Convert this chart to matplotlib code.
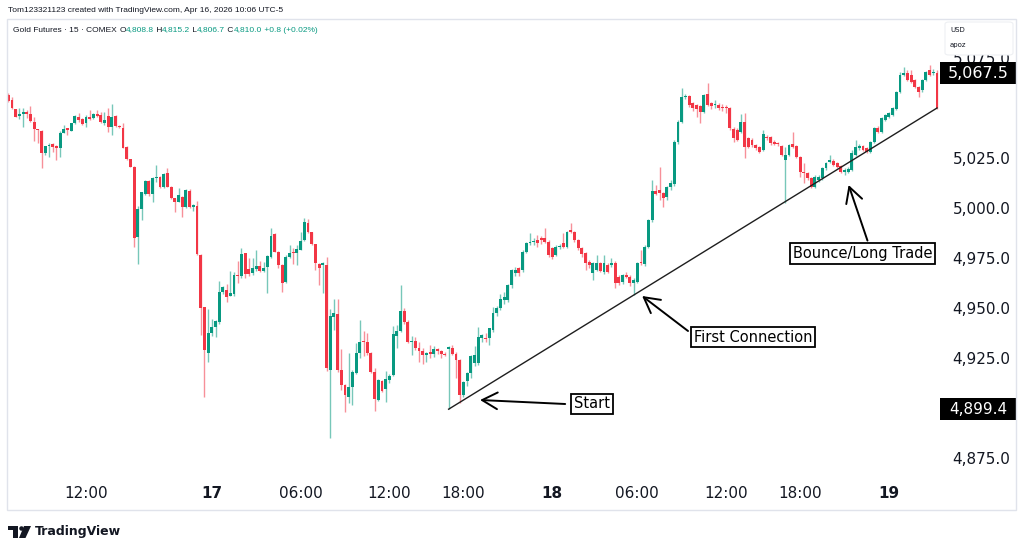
"""
Gold futures 15m chart with a hand drawn trendline and notes
"""
import numpy as np
import matplotlib.pyplot as plt
from matplotlib.patches import Rectangle, FancyBboxPatch, Polygon, Ellipse

W, H = 1024, 553
GREEN = "#089981"
RED = "#F23645"
INK = "#131722"
BORDER = "#E0E3EB"

opens = [
	5056.5, 5054.0, 5049.3, 5046.0, 5046.8, 5047.8, 5047.0, 5043.2, 5039.3, 5038.7,
	5027.3, 5031.0, 5031.8, 5030.8, 5029.8, 5037.7, 5039.8, 5038.7, 5042.3, 5045.3,
	5044.3, 5042.7, 5045.3, 5044.8, 5047.0, 5046.5, 5042.3, 5046.0, 5040.7, 5046.2,
	5041.2, 5040.2, 5030.7, 5024.3, 5020.7, 4985.3, 4999.3, 5006.8, 5013.5, 5006.8,
	5015.2, 5015.3, 5010.3, 5017.7, 5010.7, 5004.8, 5003.2, 5005.3, 5000.7, 5008.5,
	5000.7, 5001.2, 4976.5, 4950.3, 4927.7, 4937.3, 4940.7, 4943.2, 4957.8, 4959.0,
	4956.2, 4957.0, 4966.5, 4966.0, 4977.3, 4969.5, 4967.3, 4969.3, 4971.0, 4968.7,
	4970.7, 4975.3, 4986.8, 4978.2, 4971.5, 4963.2, 4975.7, 4978.2, 4977.7, 4979.0,
	4984.0, 4992.3, 4987.8, 4981.8, 4972.0, 4971.5, 4971.3, 4919.0, 4945.3, 4947.0,
	4919.0, 4911.5, 4905.7, 4910.7, 4917.3, 4927.3, 4933.7, 4932.8, 4927.3, 4918.2,
	4904.0, 4913.7, 4909.5, 4914.0, 4916.5, 4936.0, 4938.5, 4948.5, 4943.2, 4933.0,
	4933.5, 4929.8, 4928.5, 4926.5, 4928.0, 4927.0, 4929.5, 4928.5, 4927.0, 4929.5,
	4929.8, 4927.0, 4924.0, 4906.5, 4913.5, 4917.3, 4922.5, 4922.3, 4934.8, 4935.2,
	4934.8, 4939.0, 4947.3, 4949.8, 4954.0, 4954.0, 4961.5, 4967.3, 4969.8, 4969.0,
	4978.2, 4982.3, 4982.8, 4984.0, 4984.8, 4984.8, 4983.2, 4979.8, 4976.5, 4980.7,
	4982.7, 4980.7, 4989.0, 4987.8, 4984.0, 4979.8, 4977.3, 4973.2, 4967.7, 4969.0,
	4972.3, 4968.2, 4971.5, 4971.5, 4972.7, 4965.7, 4963.2, 4966.5, 4965.7, 4962.7,
	4963.2, 4973.2, 4972.0, 4980.7, 4994.0, 5008.7, 5009.0, 5007.7, 5005.3, 5010.3,
	5012.0, 5033.2, 5043.2, 5055.7, 5056.0, 5052.3, 5051.5, 5051.0, 5048.2, 5057.0,
	5052.3, 5051.5, 5051.5, 5050.7, 5050.7, 5049.8, 5039.3, 5039.0, 5038.2, 5043.2,
	5034.8, 5034.0, 5031.5, 5030.7, 5029.0, 5035.7, 5035.7, 5033.2, 5032.7, 5031.0,
	5024.0, 5026.5, 5032.0, 5031.0, 5025.7, 5018.2, 5017.3, 5014.8, 5010.7, 5014.0,
	5014.8, 5019.8, 5023.2, 5023.7, 5022.3, 5021.0, 5018.2, 5018.2, 5019.0, 5026.5,
	5029.8, 5031.0, 5029.8, 5028.2, 5033.2, 5039.8, 5038.2, 5044.0, 5045.7, 5046.5,
	5049.3, 5058.2, 5066.5, 5067.3, 5066.5, 5064.0, 5060.7, 5059.0, 5064.0, 5069.0,
	5067.3, 5067.7,
]
highs = [
	5057.5, 5055.3, 5049.5, 5049.8, 5049.8, 5049.0, 5051.2, 5045.3, 5039.5, 5039.0,
	5031.0, 5032.3, 5032.7, 5031.5, 5038.7, 5041.5, 5040.0, 5042.5, 5046.5, 5047.3,
	5044.8, 5046.5, 5049.0, 5047.3, 5049.0, 5048.2, 5047.8, 5050.2, 5052.0, 5046.5,
	5041.3, 5042.3, 5030.8, 5024.5, 5021.0, 5001.0, 5008.0, 5014.0, 5014.0, 5015.5,
	5021.7, 5016.0, 5017.5, 5019.8, 5011.0, 5005.0, 5009.8, 5006.0, 5009.5, 5009.5,
	5002.0, 5003.5, 4977.0, 4950.5, 4949.7, 4944.5, 4944.0, 4963.5, 4961.0, 4962.0,
	4968.3, 4968.0, 4973.5, 4980.0, 4977.5, 4975.0, 4975.0, 4979.0, 4973.5, 4973.0,
	4976.5, 4990.0, 4987.3, 4978.5, 4972.0, 4976.5, 4981.5, 4980.0, 4981.5, 4988.0,
	4995.0, 4994.5, 4988.0, 4982.0, 4972.5, 4973.0, 4975.3, 4949.3, 4954.3, 4954.5,
	4929.5, 4912.0, 4927.3, 4919.0, 4932.5, 4943.8, 4938.5, 4937.3, 4928.0, 4920.0,
	4914.5, 4914.0, 4918.5, 4917.0, 4941.2, 4941.5, 4961.5, 4950.0, 4944.0, 4936.0,
	4935.5, 4933.0, 4930.0, 4928.0, 4931.5, 4931.0, 4930.0, 4929.0, 4928.0, 4931.0,
	4931.5, 4928.0, 4924.5, 4913.5, 4918.0, 4926.5, 4931.0, 4940.7, 4937.0, 4937.3,
	4940.0, 4950.7, 4951.0, 4957.0, 4958.0, 4962.0, 4969.5, 4970.5, 4970.5, 4979.0,
	4983.0, 4987.3, 4985.0, 4986.7, 4986.0, 4989.8, 4984.0, 4980.5, 4981.5, 4982.0,
	4987.3, 4988.5, 4992.7, 4988.5, 4984.5, 4980.5, 4978.0, 4974.0, 4973.0, 4976.5,
	4973.0, 4976.5, 4972.5, 4975.0, 4973.5, 4966.5, 4967.0, 4968.0, 4966.5, 4965.0,
	4973.0, 4979.0, 4981.5, 4994.5, 5014.0, 5011.5, 5020.7, 5008.0, 5011.0, 5014.0,
	5034.0, 5044.0, 5059.8, 5057.0, 5056.5, 5053.0, 5052.0, 5051.5, 5057.0, 5062.3,
	5053.0, 5054.0, 5052.5, 5052.0, 5051.5, 5050.5, 5040.5, 5040.0, 5047.0, 5047.3,
	5035.5, 5035.0, 5032.0, 5031.0, 5039.0, 5036.5, 5036.2, 5033.8, 5033.0, 5031.5,
	5030.7, 5032.0, 5038.0, 5031.5, 5026.0, 5022.3, 5018.0, 5015.3, 5016.5, 5016.5,
	5020.5, 5023.0, 5026.5, 5024.5, 5023.0, 5021.5, 5020.0, 5020.5, 5029.0, 5034.0,
	5032.0, 5031.5, 5030.3, 5033.7, 5040.3, 5041.0, 5045.5, 5047.0, 5048.0, 5050.5,
	5058.7, 5068.2, 5070.7, 5069.0, 5069.0, 5064.5, 5061.0, 5064.5, 5068.7, 5071.5,
	5069.5, 5069.0,
]
lows = [
	5053.0, 5049.3, 5045.3, 5044.3, 5040.7, 5044.8, 5043.2, 5033.7, 5032.3, 5019.8,
	5026.5, 5025.7, 5028.2, 5024.0, 5025.7, 5037.3, 5036.5, 5038.5, 5042.0, 5043.2,
	5041.5, 5040.3, 5044.0, 5044.3, 5045.7, 5042.3, 5041.5, 5038.2, 5036.5, 5040.7,
	5039.8, 5029.8, 5024.0, 5020.5, 4980.3, 4971.8, 4994.0, 5006.5, 5006.0, 5003.2,
	5013.2, 5010.0, 5010.0, 5010.3, 5004.5, 4998.2, 5002.8, 4995.7, 5000.0, 5000.0,
	4998.5, 4976.5, 4936.5, 4905.7, 4923.0, 4936.0, 4935.7, 4942.0, 4957.0, 4953.2,
	4956.0, 4956.0, 4962.3, 4965.0, 4965.0, 4966.0, 4966.5, 4968.5, 4968.0, 4968.0,
	4957.3, 4975.0, 4978.0, 4969.8, 4958.0, 4962.7, 4975.0, 4972.0, 4971.5, 4979.0,
	4983.5, 4987.5, 4981.5, 4969.0, 4961.5, 4957.3, 4918.5, 4884.8, 4939.0, 4918.0,
	4909.0, 4897.8, 4902.3, 4901.7, 4917.0, 4925.2, 4926.0, 4926.5, 4917.5, 4898.7,
	4903.5, 4908.0, 4903.2, 4912.7, 4916.0, 4930.0, 4938.0, 4942.0, 4932.5, 4926.5,
	4929.0, 4923.2, 4922.0, 4923.0, 4925.0, 4925.5, 4927.0, 4925.0, 4926.0, 4899.4,
	4926.5, 4915.0, 4902.3, 4905.5, 4911.0, 4914.8, 4921.0, 4921.5, 4933.0, 4933.2,
	4931.5, 4938.0, 4946.0, 4949.0, 4952.0, 4953.0, 4960.0, 4966.0, 4966.0, 4968.0,
	4977.5, 4981.5, 4981.5, 4980.5, 4982.0, 4982.5, 4975.5, 4974.7, 4975.8, 4979.5,
	4980.0, 4980.0, 4987.5, 4983.0, 4979.0, 4975.5, 4969.0, 4970.0, 4964.0, 4968.5,
	4968.0, 4967.0, 4967.5, 4970.5, 4959.8, 4961.5, 4962.0, 4964.8, 4961.0, 4956.5,
	4962.5, 4971.5, 4971.0, 4980.0, 4993.0, 5006.5, 5004.0, 5000.7, 5004.0, 5009.0,
	5011.0, 5032.0, 5042.5, 5054.5, 5050.5, 5048.5, 5045.7, 5042.3, 5047.5, 5050.8,
	5049.5, 5050.0, 5049.0, 5048.5, 5047.5, 5039.0, 5033.0, 5033.5, 5037.5, 5024.8,
	5030.0, 5030.5, 5029.0, 5027.5, 5028.5, 5034.0, 5031.5, 5031.3, 5031.0, 5025.8,
	5002.3, 5026.0, 5030.0, 5025.0, 5015.7, 5012.3, 5014.0, 5010.0, 5010.0, 5013.0,
	5014.0, 5019.0, 5022.5, 5021.0, 5020.0, 5017.5, 5016.5, 5017.5, 5018.5, 5026.0,
	5029.0, 5028.5, 5027.5, 5027.5, 5032.5, 5037.5, 5037.5, 5043.5, 5045.0, 5046.0,
	5048.8, 5057.5, 5066.0, 5063.5, 5062.5, 5059.8, 5055.3, 5058.0, 5063.5, 5066.0,
	5066.5, 5049.5,
]
closes = [
	5053.7, 5049.8, 5045.7, 5046.8, 5047.8, 5046.8, 5043.7, 5039.3, 5039.0, 5027.3,
	5031.0, 5031.5, 5030.7, 5030.2, 5037.7, 5039.3, 5039.0, 5042.3, 5046.2, 5044.0,
	5042.0, 5045.3, 5044.5, 5046.8, 5046.0, 5042.8, 5044.0, 5040.7, 5045.7, 5041.2,
	5040.7, 5030.2, 5024.3, 5020.7, 4984.8, 4999.3, 5007.8, 5013.5, 5007.0, 5015.2,
	5015.7, 5010.7, 5016.8, 5010.7, 5004.8, 5002.8, 5006.5, 5000.7, 5008.8, 5000.7,
	5001.5, 4977.0, 4949.8, 4929.0, 4937.7, 4940.7, 4943.7, 4957.8, 4960.7, 4955.7,
	4957.7, 4966.5, 4966.0, 4977.0, 4967.0, 4967.0, 4969.8, 4971.0, 4968.7, 4970.2,
	4976.0, 4986.2, 4978.2, 4971.5, 4962.7, 4975.7, 4977.7, 4977.3, 4979.3, 4983.5,
	4992.8, 4987.8, 4981.8, 4972.3, 4969.8, 4972.3, 4919.8, 4946.0, 4947.3, 4919.0,
	4911.5, 4906.5, 4910.7, 4918.2, 4927.7, 4933.2, 4932.8, 4927.3, 4918.2, 4904.3,
	4914.0, 4908.7, 4914.5, 4916.0, 4936.8, 4938.5, 4948.5, 4943.2, 4933.2, 4933.5,
	4929.8, 4928.7, 4926.5, 4927.5, 4927.0, 4929.5, 4928.5, 4927.0, 4926.5, 4930.5,
	4927.0, 4924.0, 4906.5, 4913.2, 4917.3, 4926.0, 4926.5, 4935.7, 4936.5, 4934.5,
	4939.8, 4947.3, 4949.8, 4954.3, 4955.7, 4961.5, 4969.0, 4969.0, 4967.3, 4978.2,
	4982.7, 4983.2, 4983.7, 4982.7, 4984.0, 4983.2, 4976.5, 4975.7, 4980.7, 4981.0,
	4980.7, 4987.8, 4988.2, 4984.0, 4979.8, 4977.0, 4972.3, 4971.5, 4972.3, 4972.3,
	4968.7, 4972.3, 4968.2, 4972.7, 4962.3, 4962.3, 4966.5, 4965.7, 4962.3, 4964.0,
	4972.3, 4972.3, 4980.7, 4994.0, 5008.7, 5007.0, 5007.3, 5004.8, 5010.7, 5012.3,
	5033.2, 5043.2, 5055.7, 5056.0, 5051.5, 5049.8, 5049.3, 5048.2, 5056.5, 5051.5,
	5051.0, 5052.0, 5049.8, 5049.8, 5049.8, 5039.8, 5034.8, 5034.0, 5043.2, 5030.7,
	5030.7, 5031.5, 5029.8, 5028.2, 5037.0, 5034.8, 5032.3, 5032.0, 5032.0, 5026.5,
	5026.5, 5031.5, 5030.7, 5025.7, 5018.2, 5017.3, 5014.8, 5010.7, 5015.7, 5015.7,
	5019.8, 5022.3, 5024.0, 5021.5, 5020.7, 5018.2, 5019.0, 5019.3, 5027.3, 5030.7,
	5031.0, 5029.0, 5028.2, 5033.2, 5039.8, 5038.2, 5044.8, 5046.5, 5047.3, 5049.8,
	5058.2, 5066.5, 5067.7, 5064.0, 5063.2, 5060.3, 5058.2, 5064.0, 5068.2, 5066.5,
	5068.2, 5049.8,
]

price_ticks = [4875, 4925, 4950, 4975, 5000, 5025, 5075]
time_pos = [21, 55, 79, 103, 123, 147, 170, 194, 214, 238]
time_labels = ["12:00", "17", "06:00", "12:00", "18:00", "18", "06:00", "12:00", "18:00", "19"]
day_labels = ["17", "18", "19"]
last_price = 5067.5
line_price = 4899.4

# trendline drawn on the chart (bar index, price)
trend_idx = [119, 251]
trend_px = [4899.4, 5050.0]

notes = ["Start", "First Connection", "Bounce/Long Trade"]
note_tip = [(127.5, 4904.0), (171.3, 4956.0), (227.1, 5011.5)]
note_tail = [(150.5, 4902.0), (183.7, 4938.5), (232.2, 4983.7)]
note_box = [(157.7, 4902.0), (201.3, 4935.5), (230.9, 4977.3)]

title_line = "Tom123321123 created with TradingView.com, Apr 16, 2026 10:06 UTC-5"
legend_parts = [
	("Gold Futures \u00b7 15 \u00b7 COMEX ", INK), ("O", INK), ("4,808.8", GREEN),
	(" H", INK), ("4,815.2", GREEN), (" L", INK), ("4,806.7", GREEN),
	(" C", INK), ("4,810.0", GREEN), (" +0.8 (+0.02%)", GREEN),
]


def fx(x):
	return x / W


def fy(y):
	return 1 - y / H


def text_run(fig, x, y, parts, size=6, family="Liberation Sans"):
	"""
	write coloured pieces of text one after another (pixel position)
	"""
	r = fig.canvas.get_renderer()
	for s, color in parts:
		t = fig.text(fx(x), fy(y), s, color=color, fontsize=size,
			family=family, ha="left", va="center")
		x += t.get_window_extent(renderer=r).width


def draw_candles(ax):
	o, h, l, c = map(np.array, (opens, highs, lows, closes))
	idx = np.arange(len(c))
	col = np.where(c >= o, GREEN, RED)
	ax.vlines(idx, l, h, colors=col, linewidth=1, alpha=0.55, zorder=2)
	body = np.maximum(np.abs(c - o), 0.45)
	ax.bar(idx, body, bottom=np.minimum(o, c), width=0.78, color=col,
		linewidth=0, zorder=3)


def price_tag(ax, price, label, size=11.5):
	trans = ax.get_yaxis_transform()
	w = (1016 - 940) / 933
	ax.add_patch(Rectangle((1.0, price - 5.5), w, 11, transform=trans,
		facecolor="black", edgecolor="none", clip_on=False, zorder=10))
	ax.text(1.0 + w / 2, price, label, transform=trans, color="white",
		fontsize=size, ha="center", va="center", zorder=11, clip_on=False)


def add_notes(ax):
	for label, tip, tail, box in zip(notes, note_tip, note_tail, note_box):
		ax.annotate("", xy=tip, xytext=tail,
			arrowprops=dict(arrowstyle="->,head_length=1.1,head_width=0.6",
				color="black", lw=1.4, shrinkA=0, shrinkB=0), zorder=6)
		ax.text(box[0], box[1], label, fontsize=10.5, color="black",
			ha="center", va="center", zorder=7,
			bbox=dict(boxstyle="square,pad=0.2", fc="white", ec="black", lw=1.3))


def add_logo(fig):
	k = dict(transform=fig.transFigure, facecolor=INK, edgecolor="none")
	fig.patches.append(Rectangle((fx(8), fy(530)), 10 / W, 4 / H, **k))
	fig.patches.append(Rectangle((fx(13), fy(538)), 5 / W, 12 / H, **k))
	fig.patches.append(Ellipse((fx(21.5), fy(528.5)), 4.5 / W, 4.5 / H, **k))
	fig.patches.append(Polygon([(fx(24), fy(526)), (fx(31), fy(526)),
		(fx(25.5), fy(538)), (fx(19), fy(538))], closed=True, **k))
	fig.text(fx(35), fy(532), "TradingView", fontsize=9, fontweight="bold",
		color=INK, ha="left", va="center")


if __name__ == "__main__":
	plt.rcParams["font.family"] = ["DejaVu Sans"]
	fig = plt.figure(figsize=(W / 100, H / 100), dpi=100)
	fig.patch.set_facecolor("white")

	ax = fig.add_axes([fx(7), fy(478), (940 - 7) / W, (478 - 19) / H])
	ax.set_facecolor("white")
	draw_candles(ax)
	ax.plot(trend_idx, trend_px, color="#1E1E1E", lw=1.0, zorder=5)
	add_notes(ax)

	ax.set_xlim(-0.35, 251.8)
	ax.set_ylim(4865.0, 5094.5)
	for s in ax.spines.values():
		s.set_visible(False)

	ax.yaxis.tick_right()
	ax.set_yticks(price_ticks)
	ax.set_yticklabels([f"{v:,.1f}" for v in price_ticks])
	ax.tick_params(axis="y", length=0, pad=9, labelsize=11, labelcolor=INK)
	ax.set_xticks(time_pos)
	ax.set_xticklabels(time_labels)
	ax.tick_params(axis="x", length=0, pad=6, labelsize=11, labelcolor=INK)
	for t in ax.get_xticklabels():
		if t.get_text() in day_labels:
			t.set_fontweight("bold")

	price_tag(ax, last_price, f"{last_price:,.1f}")
	price_tag(ax, line_price, f"{line_price:,.1f}", size=11)

	# outer frame and the small currency box
	fig.patches.append(Rectangle((fx(7), fy(510)), 1009 / W, 491 / H,
		transform=fig.transFigure, fill=False, edgecolor=BORDER, lw=1))
	fig.patches.append(FancyBboxPatch((fx(945), fy(55)), 68 / W, 33 / H,
		boxstyle="round,pad=0,rounding_size=0.004", transform=fig.transFigure,
		facecolor="white", edgecolor="#EEF0F3", lw=0.8, zorder=3))
	fig.text(fx(950), fy(30), "USD", fontsize=5, color=INK, zorder=4, va="center")
	fig.text(fx(950), fy(45), "apoz", fontsize=5, color=INK, zorder=4, va="center")

	fig.text(fx(8), fy(10), title_line, fontsize=6, family="Liberation Sans",
		color=INK, ha="left", va="center")
	text_run(fig, 13, 30, legend_parts)
	add_logo(fig)

	fig.savefig("out.png", dpi=100, facecolor="white")
